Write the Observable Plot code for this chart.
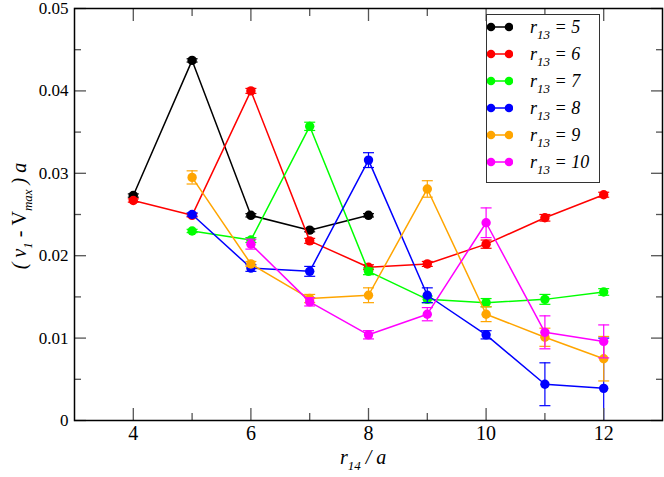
<!DOCTYPE html>
<html><head><meta charset="utf-8">
<script src="https://cdn.jsdelivr.net/npm/d3@7"></script>
<script src="https://cdn.jsdelivr.net/npm/@observablehq/plot@0.6"></script>
<style>
body{margin:0;background:#fff;}
#wrap{position:relative;width:664px;height:477px;font-family:"Liberation Serif","DejaVu Serif","Times New Roman",serif;color:#000;}
#wrap svg{position:absolute;left:0;top:0;}
.legend{position:absolute;left:486px;top:14px;width:114px;height:169px;border:1.2px solid #333;background:#fff;box-sizing:border-box;}
.row{position:absolute;left:0;height:20px;width:110px;}
.row svg{position:absolute;left:8px;top:4px;}
.row .t{position:absolute;left:43px;top:-4px;font-style:italic;font-size:18px;white-space:nowrap;line-height:20px;}
.sub{font-size:13px;position:relative;top:6px;}
.xt{position:absolute;left:340px;top:447px;font-style:italic;font-size:20px;white-space:nowrap;line-height:20px;}
.yt{position:absolute;left:20px;top:216px;font-style:italic;font-size:20px;white-space:nowrap;line-height:24px;transform:translate(-50%,-50%) rotate(-90deg);}
.up{font-style:normal;}
</style>
</head><body>
<div id="wrap"></div>
<script>
const xs = [4, 5, 6, 7, 8, 9, 10, 11, 12];
const r13 = [5, 6, 7, 8, 9, 10];
const colors = ["#000000", "#ff0000", "#00ff00", "#0000ff", "#ffa500", "#ff00ff"];
const xMajor = [4, 6, 8, 10, 12];
const xMinor = [5, 7, 9, 11];
const yMajor = [0, 0.01, 0.02, 0.03, 0.04, 0.05];
const yMinor = [0.005, 0.015, 0.025, 0.035, 0.045];

// values aligned with xs (null = no point)
const v5  = [0.0273, 0.0437, 0.0249, 0.0231, 0.0249, null, null, null, null];
const e5  = [0.0002, 0.0002, 0.0002, 0.0002, 0.0002, null, null, null, null];
const v6  = [0.0267, 0.0249, 0.0400, 0.0218, 0.0186, 0.0190, 0.0214, 0.0246, 0.0274];
const e6  = [0.0002, 0.0002, 0.0003, 0.0003, 0.0003, 0.0003, 0.0005, 0.0004, 0.0003];
const v7  = [null, 0.0230, 0.0219, 0.0357, 0.0181, 0.0147, 0.0143, 0.0147, 0.0156];
const e7  = [null, 0.0002, 0.0003, 0.0005, 0.0004, 0.0004, 0.0005, 0.0006, 0.0004];
const v8  = [null, 0.0250, 0.0185, 0.0181, 0.0316, 0.0152, 0.0104, 0.0044, 0.0039];
const e8  = [null, 0.0002, 0.0004, 0.0006, 0.0009, 0.0009, 0.0005, 0.0026, 0.0061];
const v9  = [null, 0.0295, 0.0190, 0.0148, 0.0152, 0.0281, 0.0129, 0.0101, 0.0075];
const e9  = [null, 0.0008, 0.0003, 0.0005, 0.0009, 0.0010, 0.0009, 0.0011, 0.0027];
const v10 = [null, null, 0.0214, 0.0144, 0.0104, 0.0129, 0.0240, 0.0107, 0.0096];
const e10 = [null, null, 0.0006, 0.0005, 0.0005, 0.0008, 0.0018, 0.0020, 0.0020];

const series = [[v5, e5], [v6, e6], [v7, e7], [v8, e8], [v9, e9], [v10, e10]];

const capSymbol = {
  draw(ctx, size) {
    const r = Math.sqrt(size / Math.PI);
    ctx.moveTo(-r, 0);
    ctx.lineTo(r, 0);
  }
};

const marks = [];
series.forEach(([v, e], i) => {
  const rows = [];
  xs.forEach((x, j) => {
    if (v[j] != null) rows.push({x, y: v[j], lo: v[j] - e[j], hi: v[j] + e[j]});
  });
  const c = colors[i];
  marks.push(
    Plot.line(rows, {x: "x", y: "y", stroke: c, strokeWidth: 1.5}),
    Plot.ruleX(rows, {x: "x", y1: "lo", y2: "hi", stroke: c, strokeWidth: 1.2, clip: true}),
    Plot.dot(rows, {x: "x", y: "lo", r: 5.5, symbol: capSymbol, stroke: c, strokeWidth: 1.2, fill: "none", clip: true}),
    Plot.dot(rows, {x: "x", y: "hi", r: 5.5, symbol: capSymbol, stroke: c, strokeWidth: 1.2, fill: "none", clip: true}),
    Plot.dot(rows, {x: "x", y: "y", r: 4.7, fill: c, stroke: "none"})
  );
});

const tickColor = "#555";
const blank = () => "";
const chart = Plot.plot({
  width: 664,
  height: 477,
  marginLeft: 74,
  marginRight: 2,
  marginTop: 8,
  marginBottom: 57,
  style: {fontFamily: '"Liberation Serif", "DejaVu Serif", "Times New Roman", serif', background: "transparent", overflow: "visible"},
  x: {domain: [3, 13]},
  y: {domain: [0, 0.05]},
  marks: [
    ...marks,
    Plot.axisX({anchor: "bottom", ticks: xMajor, tickSize: -12, tickFormat: blank, stroke: tickColor, strokeWidth: 1.3, label: null}),
    Plot.axisX({anchor: "bottom", ticks: xMinor, tickSize: -7, tickFormat: blank, stroke: tickColor, strokeWidth: 1.3, label: null}),
    Plot.axisX({anchor: "top", ticks: xMajor, tickSize: -12, tickFormat: blank, stroke: tickColor, strokeWidth: 1.3, label: null}),
    Plot.axisX({anchor: "top", ticks: xMinor, tickSize: -7, tickFormat: blank, stroke: tickColor, strokeWidth: 1.3, label: null}),
    Plot.axisY({anchor: "left", ticks: yMajor, tickSize: -12, tickFormat: blank, stroke: tickColor, strokeWidth: 1.3, label: null}),
    Plot.axisY({anchor: "left", ticks: yMinor, tickSize: -7, tickFormat: blank, stroke: tickColor, strokeWidth: 1.3, label: null}),
    Plot.axisY({anchor: "right", ticks: yMajor, tickSize: -12, tickFormat: blank, stroke: tickColor, strokeWidth: 1.3, label: null}),
    Plot.axisY({anchor: "right", ticks: yMinor, tickSize: -7, tickFormat: blank, stroke: tickColor, strokeWidth: 1.3, label: null}),
    Plot.axisX({anchor: "bottom", ticks: xMajor, tickSize: 0, tickPadding: 5, fontSize: 20, fill: "black", label: null}),
    Plot.axisY({anchor: "left", ticks: yMajor, tickSize: 0, tickPadding: 6, fontSize: 17, fill: "black", label: null,
      tickFormat: d => d === 0 ? "0" : d.toFixed(2)}),
    Plot.frame({stroke: "black", strokeWidth: 1.5})
  ]
});

const wrap = document.getElementById("wrap");
wrap.appendChild(chart);

// legend
const legend = document.createElement("div");
legend.className = "legend";
r13.forEach((r, i) => {
  const row = document.createElement("div");
  row.className = "row";
  row.style.top = (6 + 27 * i) + "px";
  const c = colors[i];
  row.innerHTML =
    `<svg width="26" height="12"><line x1="4" y1="6" x2="22" y2="6" stroke="${c}" stroke-width="1.5"/>` +
    `<circle cx="4" cy="6" r="4.3" fill="${c}"/><circle cx="22" cy="6" r="4.3" fill="${c}"/></svg>` +
    `<span class="t">r<span class="sub">13</span> = ${r}</span>`;
  legend.appendChild(row);
});
wrap.appendChild(legend);

const xt = document.createElement("div");
xt.className = "xt";
xt.innerHTML = `r<span class="sub">14</span> / a`;
wrap.appendChild(xt);

const yt = document.createElement("div");
yt.className = "yt";
yt.innerHTML = `( v<span class="sub">1</span> <span class="up">-</span> <span class="up">V</span><span class="sub">max</span> ) a`;
wrap.appendChild(yt);
</script>
</body></html>
